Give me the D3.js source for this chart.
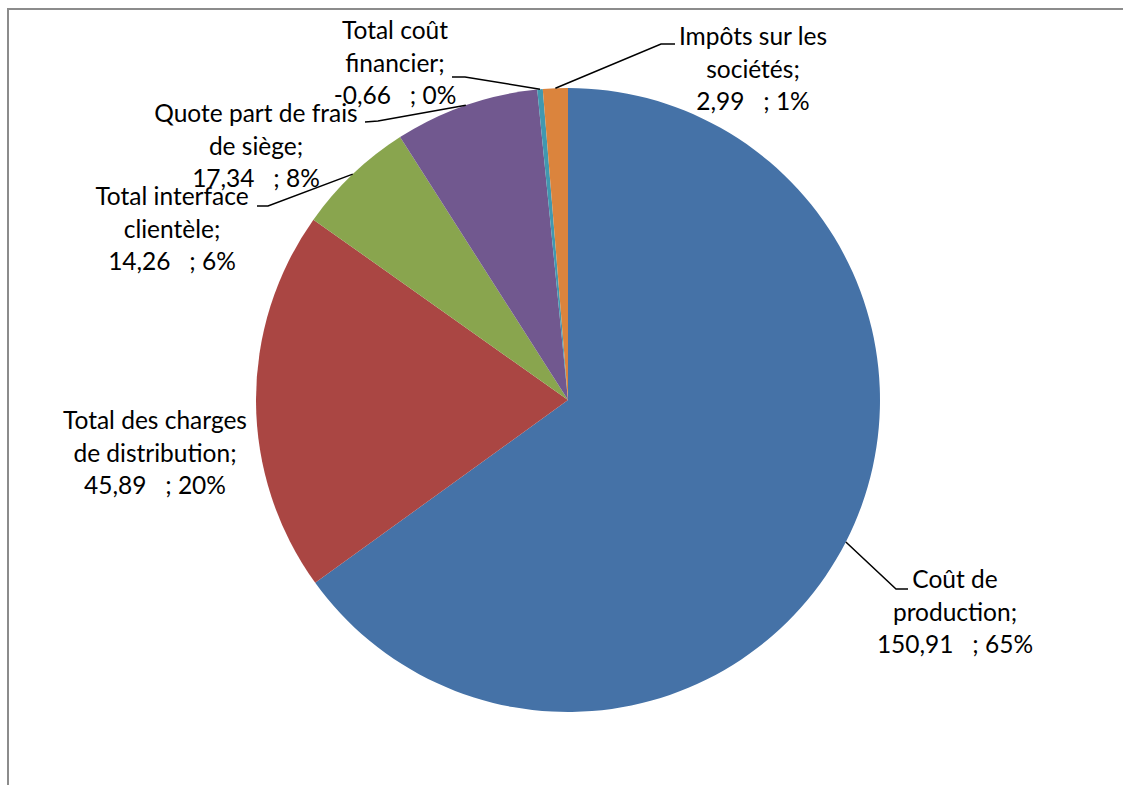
<!DOCTYPE html>
<html>
<head>
<meta charset="utf-8">
<script src="https://cdn.jsdelivr.net/npm/d3@7"></script>
<style>
  body { margin: 0; background: #fff; }
  svg text { font-family: Lato, "Noto Sans", sans-serif; font-size: 24.5px; fill: #000; white-space: pre; }
</style>
</head>
<body>
<div id="chart"></div>
<script>
// data
var categories = ["Coût de production", "Total des charges de distribution", "Total interface clientèle",
  "Quote part de frais de siège", "Total coût financier", "Impôts sur les sociétés"];
var values = [150.91, 45.89, 14.26, 17.34, -0.66, 2.99];
var labelLines = [
  ["Coût de", "production;", "150,91   ; 65%"],
  ["Total des charges", "de distribution;", "45,89   ; 20%"],
  ["Total interface", "clientèle;", "14,26   ; 6%"],
  ["Quote part de frais", "de siège;", "17,34   ; 8%"],
  ["Total coût", "financier;", "-0,66   ; 0%"],
  ["Impôts sur les", "sociétés;", "2,99   ; 1%"]
];
var colors = ["#4572A7", "#AA4643", "#89A54E", "#71588F", "#4198AF", "#DB843D"];

document.addEventListener('DOMContentLoaded', function () {
  var width = 1123, height = 785;
  var cx = 568, cy = 400, radius = 312;

  // label layout: text centre x, first baseline y, leader elbow / end points (null = no leader)
  var labelPos = [
    {x: 955, y: 588, elbow: [896, 589], end: [908, 589]},
    {x: 155, y: 429, elbow: null, end: null},
    {x: 172, y: 205, elbow: [268, 206], end: [257, 206]},
    {x: 256, y: 122, elbow: [378, 121], end: [365, 122]},
    {x: 395, y: 39, elbow: [465, 77], end: [452, 77]},
    {x: 753, y: 45, elbow: [661, 44], end: [675, 44]}
  ];
  var lineHeight = 32.5;

  var svg = d3.select("#chart").append("svg")
    .attr("width", width).attr("height", height);

  // chart frame (only top and left edges visible)
  svg.append("line").attr("x1", 7).attr("x2", width).attr("y1", 9).attr("y2", 9)
    .attr("stroke", "#8c8c8c").attr("stroke-width", 2);
  svg.append("line").attr("x1", 8).attr("x2", 8).attr("y1", 8).attr("y2", height)
    .attr("stroke", "#8c8c8c").attr("stroke-width", 2);

  var data = categories.map(function (c, i) {
    return {name: c, value: values[i], size: Math.abs(values[i]), i: i};
  });

  var pie = d3.pie().sort(null).value(function (d) { return d.size; });
  var arcs = pie(data);
  var arc = d3.arc().innerRadius(0).outerRadius(radius);
  var edge = d3.arc().innerRadius(radius).outerRadius(radius);

  var g = svg.append("g").attr("transform", "translate(" + cx + "," + cy + ")");
  g.selectAll("path.slice").data(arcs).enter().append("path")
    .attr("class", "slice")
    .attr("d", arc)
    .attr("fill", function (d) { return colors[d.data.i]; });

  // leader lines
  arcs.forEach(function (a) {
    var p = labelPos[a.data.i];
    if (!p.elbow) return;
    var start = edge.centroid(a);
    var pts = [[start[0] + cx, start[1] + cy], p.elbow, p.end];
    svg.append("path")
      .attr("d", d3.line()(pts))
      .attr("fill", "none").attr("stroke", "#000").attr("stroke-width", 1.5);
  });

  // labels
  data.forEach(function (d) {
    var p = labelPos[d.i];
    var t = svg.append("text").attr("text-anchor", "middle");
    labelLines[d.i].forEach(function (line, k) {
      t.append("tspan").attr("x", p.x).attr("y", p.y + k * lineHeight).text(line);
    });
  });
});
</script>
</body>
</html>
